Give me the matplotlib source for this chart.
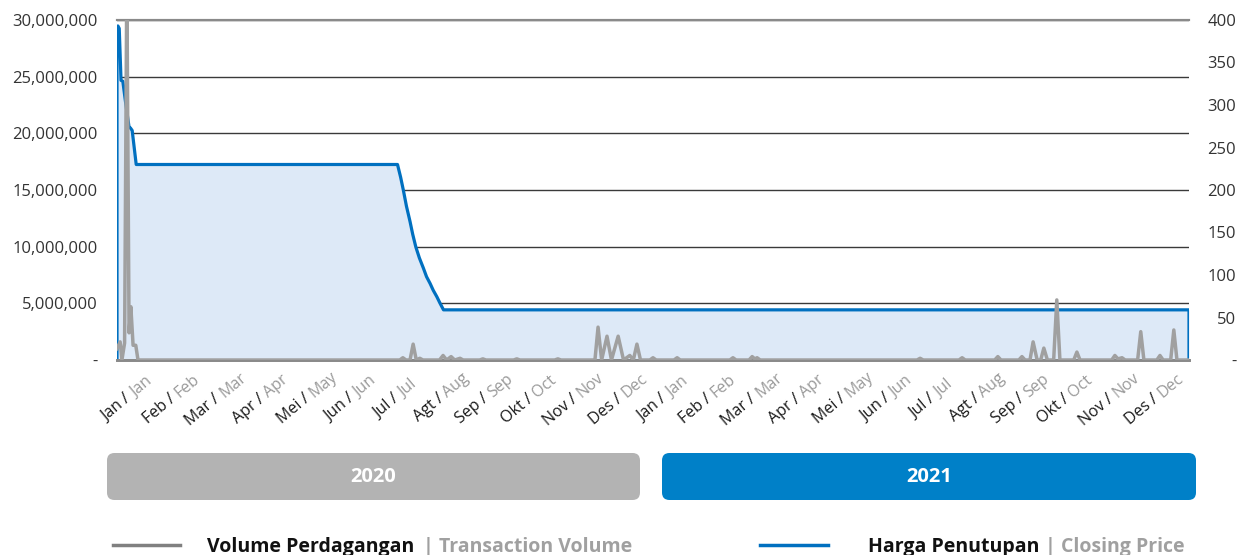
import matplotlib
matplotlib.use('Agg')
import matplotlib.pyplot as plt
from matplotlib.patches import FancyBboxPatch
from matplotlib.lines import Line2D
from matplotlib.ticker import MultipleLocator

plt.rcParams['font.family'] = ['Open Sans', 'DejaVu Sans']

# time in months since 1 Jan 2020
price_t = [0, 0.02, 0.05, 0.09, 0.13, 0.20, 0.27, 0.30, 0.34, 0.43,
           6.28, 6.35, 6.41, 6.48, 6.56, 6.62, 6.69, 6.77, 6.86, 6.93, 7.01, 7.08,
           7.16, 7.23, 7.31, 24]
price_v = [392, 393, 390, 329, 328, 300, 274, 273, 270, 230,
           230, 215, 200, 181, 163, 148, 133, 120, 108, 98, 90, 82,
           74.5, 67, 59, 59]

vol_t = [0, 0.07, 0.11, 0.17, 0.22, 0.27, 0.31, 0.36, 0.42, 0.47,
         6.33, 6.40, 6.47, 6.56, 6.63, 6.70, 6.78, 6.85, 7.22, 7.30, 7.38, 7.48, 7.56, 7.68, 7.75,
         8.12, 8.19, 8.26, 8.88, 8.95, 9.02, 9.80, 9.87, 9.94,
         10.70, 10.77, 10.85, 10.97, 11.07, 11.22, 11.34, 11.48, 11.56, 11.64, 11.72,
         11.93, 12.00, 12.07, 12.47, 12.54, 12.61,
         13.72, 13.79, 13.86, 14.15, 14.22, 14.28, 14.33, 14.40,
         17.91, 17.98, 18.05, 18.85, 18.92, 18.99, 19.65, 19.72, 19.79,
         20.19, 20.26, 20.33, 20.44, 20.51, 20.60, 20.68, 20.75, 20.83, 20.97, 21.04, 21.11,
         21.42, 21.49, 21.56, 22.27, 22.34, 22.41, 22.50, 22.57,
         22.85, 22.92, 22.99, 23.28, 23.35, 23.42, 23.59, 23.66, 23.73, 24]
vol_v = [1.0, 1.6, 0, 1.5, 34, 2.4, 4.7, 1.3, 1.3, 0,
         0, 0.2, 0, 0, 1.4, 0, 0.15, 0, 0, 0.4, 0, 0.3, 0, 0.15, 0,
         0, 0.1, 0, 0, 0.1, 0, 0, 0.1, 0,
         0, 2.9, 0, 2.1, 0, 2.1, 0, 0.4, 0, 1.4, 0,
         0, 0.2, 0, 0, 0.2, 0,
         0, 0.2, 0, 0, 0.3, 0.1, 0.2, 0,
         0, 0.15, 0, 0, 0.2, 0, 0, 0.3, 0,
         0, 0.3, 0, 0, 1.6, 0, 0, 1.05, 0, 0, 5.3, 0,
         0, 0.7, 0, 0, 0.4, 0.1, 0.2, 0,
         0, 2.5, 0, 0, 0.4, 0, 0, 2.65, 0, 0]

months_id = ['Jan', 'Feb', 'Mar', 'Apr', 'Mei', 'Jun', 'Jul', 'Agt', 'Sep', 'Okt', 'Nov', 'Des']
months_en = ['Jan', 'Feb', 'Mar', 'Apr', 'May', 'Jun', 'Jul', 'Aug', 'Sep', 'Oct', 'Nov', 'Dec']
years = ['2020', '2021']
vol_ticks = [0, 5, 10, 15, 20, 25, 30]
price_ticks = [0, 50, 100, 150, 200, 250, 300, 350, 400]

W, H = 1241, 555
fig = plt.figure(figsize=(W / 100, H / 100), dpi=100)
ax1 = fig.add_axes([117 / W, 1 - 360 / H, (1189 - 117) / W, 340 / H])
ax2 = ax1.twinx()
ax1.set_zorder(2)
ax1.patch.set_visible(False)

# closing price (filled area, right axis)
ax2.fill_between(price_t, price_v, color='#dde9f7', lw=0, zorder=1)
ax2.plot([price_t[0]] + price_t + [price_t[-1]], [0] + price_v + [0],
         color='#0070c0', lw=2.3, zorder=2, solid_joinstyle='round')
ax2.set_ylim(0, 400)
ax2.set_yticks(price_ticks)
ax2.set_yticklabels(['-' if v == 0 else str(v) for v in price_ticks])
# gridlines follow the left (volume) axis steps
ax2.yaxis.set_minor_locator(MultipleLocator(400 / 6))
ax2.yaxis.remove_overlapping_locs = False
ax2.grid(which='minor', axis='y', color='#3a3a3a', lw=1.0)
ax2.set_axisbelow(True)
ax2.tick_params(axis='y', which='both', length=0, labelsize=12, labelcolor='#333333', pad=34)
for lab in ax2.get_yticklabels():
    lab.set_horizontalalignment('right')

# volume (left axis)
ax1.plot(vol_t, [v * 1e6 for v in vol_v], color='#a0a0a0', lw=2.5, zorder=3)
ax1.set_ylim(0, 30e6)
ax1.set_xlim(0, 24)
ax1.set_yticks([v * 1e6 for v in vol_ticks])
ax1.set_yticklabels(['-' if v == 0 else f'{v * 1000000:,}' for v in vol_ticks])
ax1.tick_params(axis='y', length=0, labelsize=12, labelcolor='#333333', pad=14)
ax1.set_xticks([])

for a in (ax1, ax2):
    for s in ('left', 'right'):
        a.spines[s].set_visible(False)
    a.spines['top'].set_color('#8a8a8a')
    a.spines['top'].set_linewidth(1.5)
    a.spines['bottom'].set_color('#8a8a8a')
    a.spines['bottom'].set_linewidth(2)

# two-colour month labels
for i in range(24):
    m = i % 12
    ax1.annotate(months_id[m] + ' / ', xy=(i + 0.4, 0), xycoords=('data', 'axes fraction'),
                 xytext=(0, -27), textcoords='offset points', rotation=40,
                 rotation_mode='anchor', ha='right', va='baseline',
                 fontsize=11.5, color='#1a1a1a', annotation_clip=False)
    ax1.annotate(months_en[m], xy=(i + 0.4, 0), xycoords=('data', 'axes fraction'),
                 xytext=(0, -27), textcoords='offset points', rotation=40,
                 rotation_mode='anchor', ha='left', va='baseline',
                 fontsize=11.5, color='#9a9a9a', annotation_clip=False)

# year bands
for (x0, x1), label, col in zip([(107, 640), (662, 1196)], years, ['#b3b3b3', '#0080c8']):
    box = FancyBboxPatch((x0 / W, 1 - 500 / H), (x1 - x0) / W, 47 / H,
                         boxstyle='round,pad=0,rounding_size=0.006',
                         mutation_aspect=W / H, transform=fig.transFigure,
                         facecolor=col, edgecolor='none')
    fig.patches.append(box)
    fig.text((x0 + x1) / 2 / W, 1 - 477 / H, label, ha='center', va='center',
             color='white', fontsize=14.5, fontweight='bold')

# legend
fig.lines.append(Line2D([113 / W, 180 / W], [1 - 545 / H] * 2, color='#808080', lw=2.5,
                        transform=fig.transFigure))
fig.lines.append(Line2D([760 / W, 828 / W], [1 - 545 / H] * 2, color='#0070c0', lw=2.5,
                        transform=fig.transFigure))
fig.text(207 / W, 1 - 552 / H, 'Volume Perdagangan', fontsize=14, fontweight='bold',
         color='#111111', va='baseline')
fig.text(423 / W, 1 - 552 / H, '| Transaction Volume', fontsize=14, fontweight='bold',
         color='#a0a0a0', va='baseline')
fig.text(868 / W, 1 - 552 / H, 'Harga Penutupan', fontsize=14, fontweight='bold',
         color='#111111', va='baseline')
fig.text(1045 / W, 1 - 552 / H, '| Closing Price', fontsize=14, fontweight='bold',
         color='#a0a0a0', va='baseline')

fig.savefig('out.png', dpi=100)
